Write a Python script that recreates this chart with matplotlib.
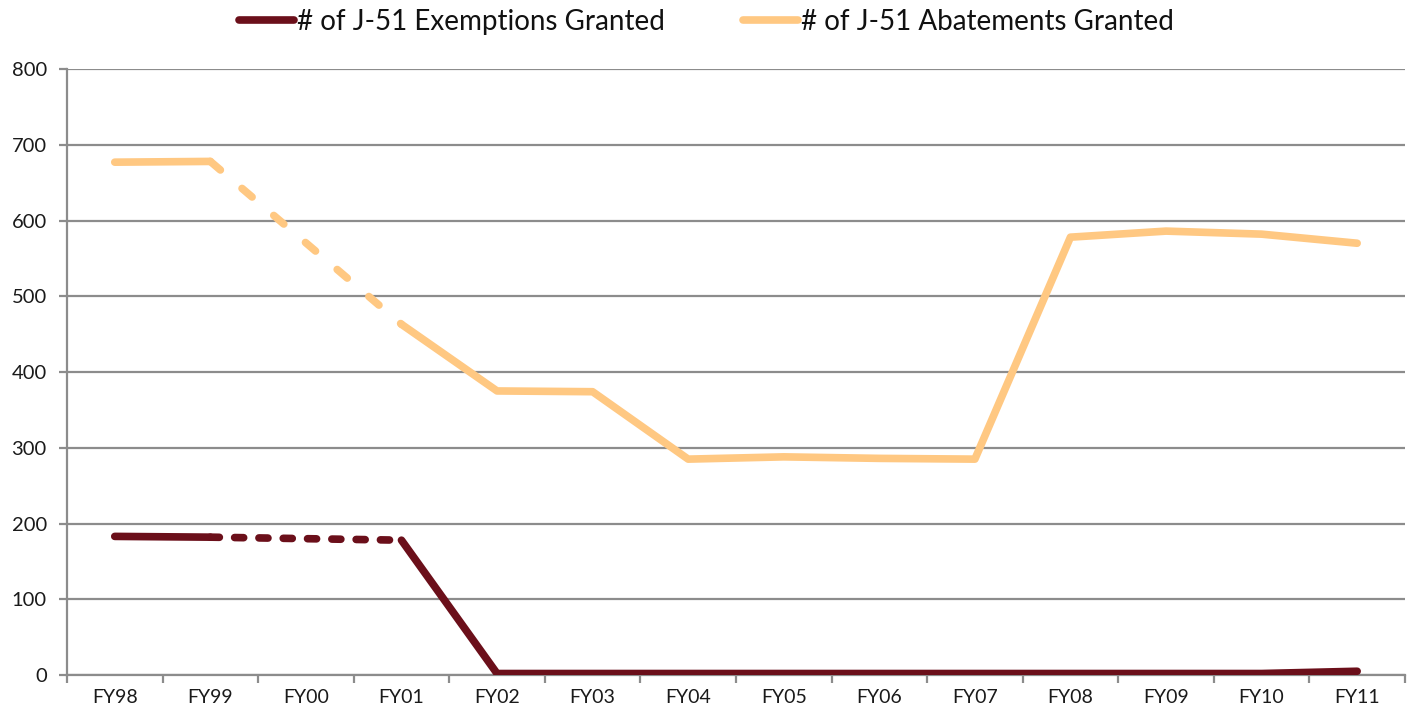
import numpy as np
import matplotlib
matplotlib.use("Agg")
import matplotlib.pyplot as plt

plt.rcParams["font.family"] = ["Lato", "DejaVu Sans"]
plt.rcParams["lines.scale_dashes"] = False

years = ["FY98", "FY99", "FY00", "FY01", "FY02", "FY03", "FY04",
         "FY05", "FY06", "FY07", "FY08", "FY09", "FY10", "FY11"]
# FY00 was not reported -> NaN, bridged with a dashed segment
exemptions = [183, 182, np.nan, 178, 2, 2, 2, 2, 2, 2, 2, 2, 2, 5]
abatements = [677, 678, np.nan, 463, 375, 374, 285, 288, 286, 285,
              578, 586, 582, 570]

EXEMPT_COLOR = "#6B0F1A"
ABATE_COLOR = "#FFC882"
GRID = "#8C8C8C"


def draw_series(ax, values, color, dashes, label):
    x = np.arange(len(values))
    y = np.asarray(values, dtype=float)
    ax.plot(x, y, color=color, lw=5.5, solid_capstyle="round",
            solid_joinstyle="round", label=label, zorder=3)
    # dashed bridge over the missing year(s)
    for i in np.where(np.isnan(y))[0]:
        lo, hi = i - 1, i + 1
        while np.isnan(y[hi]):
            hi += 1
        ax.plot([lo, hi], [y[lo], y[hi]], color=color, lw=5.5,
                dashes=dashes, dash_capstyle="round", zorder=3)


fig = plt.figure(figsize=(14.13, 7.15), dpi=100)
ax = fig.add_axes([0.0474, 0.0559, 0.9469, 0.8476])

draw_series(ax, exemptions, EXEMPT_COLOR, (6.5, 11),
            "# of J-51 Exemptions Granted")
draw_series(ax, abatements, ABATE_COLOR, (9.5, 20.5),
            "# of J-51 Abatements Granted")

ax.set_xlim(-0.5, len(years) - 0.5)
ax.set_ylim(0, 800)
ax.set_yticks(range(0, 801, 100))
ax.yaxis.grid(True, color=GRID, lw=1.6)
ax.set_axisbelow(True)

ax.set_xticks(range(len(years)))
ax.set_xticklabels(years)
ax.set_xticks(np.arange(-0.5, len(years), 1.0), minor=True)
ax.tick_params(axis="x", which="major", length=0, pad=10,
               labelsize=14, labelcolor="#1a1a1a")
ax.tick_params(axis="x", which="minor", length=5.5, width=1.6, color=GRID)
ax.tick_params(axis="y", length=5.5, width=1.6, color=GRID, pad=9,
               labelsize=14.5, labelcolor="#1a1a1a")

for side in ("top", "right"):
    ax.spines[side].set_visible(False)
for side in ("left", "bottom"):
    ax.spines[side].set_color(GRID)
    ax.spines[side].set_linewidth(1.6)

fig.legend(loc="center", bbox_to_anchor=(0.5, 0.969), ncol=2,
           frameon=False, fontsize=20, handlelength=2.0,
           handletextpad=0.1, columnspacing=2.8,
           labelcolor="#111111")

fig.savefig("out.png", dpi=100)
